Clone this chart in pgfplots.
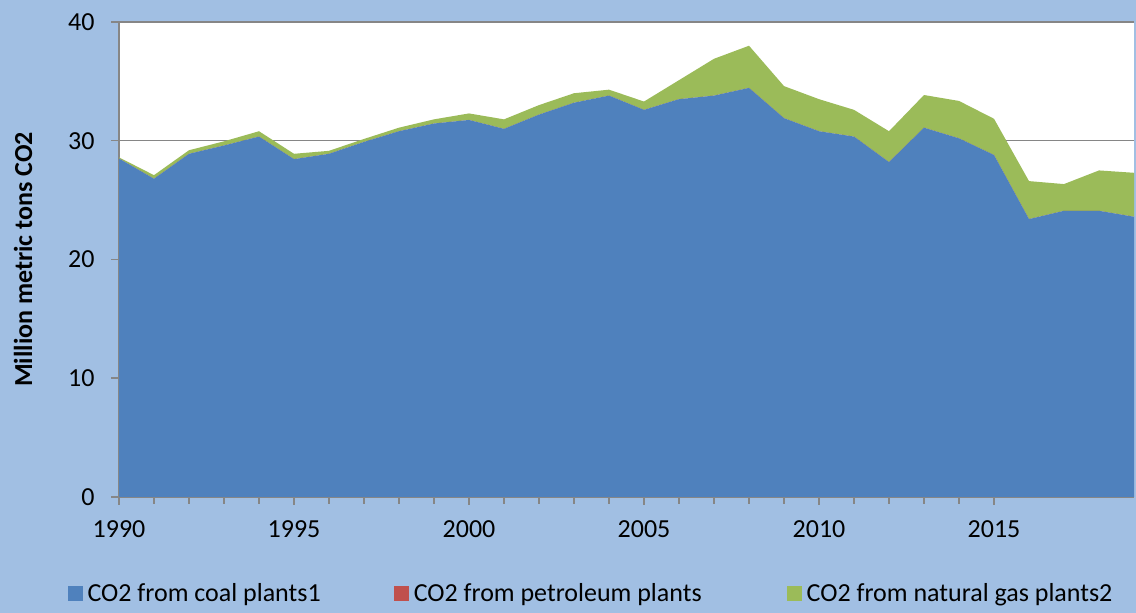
\documentclass[border=0pt]{standalone}
\usepackage{pgfplots}
\pgfplotsset{compat=1.18}
\usepackage{pgfplotstable}
\usepackage{fontspec}
\setmainfont{Carlito}
\definecolor{coal}{HTML}{4F81BD}
\definecolor{pet}{HTML}{C0504D}
\definecolor{gas}{HTML}{9BBB59}
\definecolor{bgblue}{HTML}{A1BFE3}
\definecolor{axgray}{HTML}{868686}
\pagecolor{bgblue}
\pgfplotstableread{
year coal pet gas
1990 28.50 0.00 0.10
1991 26.80 0.00 0.30
1992 28.90 0.00 0.30
1993 29.60 0.00 0.35
1994 30.35 0.00 0.45
1995 28.45 0.00 0.45
1996 28.90 0.00 0.25
1997 29.90 0.00 0.25
1998 30.80 0.00 0.30
1999 31.45 0.00 0.35
2000 31.75 0.00 0.55
2001 31.00 0.00 0.80
2002 32.20 0.00 0.80
2003 33.20 0.00 0.80
2004 33.80 0.00 0.50
2005 32.60 0.00 0.70
2006 33.50 0.00 1.60
2007 33.80 0.00 3.10
2008 34.45 0.00 3.55
2009 31.90 0.00 2.70
2010 30.80 0.00 2.70
2011 30.35 0.00 2.25
2012 28.20 0.00 2.60
2013 31.10 0.00 2.75
2014 30.20 0.00 3.15
2015 28.80 0.00 3.05
2016 23.40 0.00 3.20
2017 24.10 0.00 2.25
2018 24.10 0.00 3.40
2019 23.60 0.00 3.70
}\datatable
\begin{document}
\begin{tikzpicture}[x=1pt,y=1pt]
\path (0,0) rectangle (568,306.5);
\begin{axis}[
  at={(59.5pt,58pt)}, anchor=south west,
  scale only axis, width=507.5pt, height=237.5pt,
  stack plots=y, area style, axis on top=false,
  xmin=1990, xmax=2019, ymin=0, ymax=40,
  xtick={1990,1995,...,2015}, minor x tick num=4,
  ytick={0,10,...,40},
  axis x line*=bottom, axis y line*=left,
  axis line style={axgray, line width=0.75pt, -},
  every tick/.style={axgray, line width=0.75pt},
  tick align=outside,
  major tick length=4pt, minor tick length=3.5pt,
  ymajorgrids, major grid style={axgray, line width=0.75pt},
  axis background/.style={fill=white},
  /pgf/number format/assume math mode=true,
  /pgf/number format/1000 sep={},
  tick label style={font=\fontsize{13}{15}\selectfont, black},
  xticklabel style={yshift=-4.5pt},
  yticklabel style={xshift=-4.7pt},
  ylabel={\textbf{Million metric tons CO2}},
  ylabel style={at={(axis description cs:-0.0945,0.5)}, anchor=center, font=\fontsize{13}{15}\selectfont},
  legend columns=3,
  legend style={at={(axis description cs:0.4665,-0.204)}, anchor=center, draw=none, fill=none,
    font=\fontsize{13}{15}\selectfont,
    nodes={inner xsep=2.5pt, inner ysep=1pt},
    /tikz/column 2/.style={column sep=34pt},
    /tikz/column 4/.style={column sep=40pt}},
  legend cell align=left,
  legend image code/.code={\fill[#1] (0pt,-3.75pt) rectangle (7.5pt,3.75pt);},
]
\addplot[fill=coal, draw=none] table[x=year, y=coal]{\datatable} \closedcycle;
\addlegendentry{CO2 from coal plants1}
\addplot[fill=pet, draw=none] table[x=year, y=pet]{\datatable} \closedcycle;
\addlegendentry{CO2 from petroleum plants}
\addplot[fill=gas, draw=none] table[x=year, y=gas]{\datatable} \closedcycle;
\addlegendentry{CO2 from natural gas plants2}
\end{axis}
\end{tikzpicture}
\end{document}
